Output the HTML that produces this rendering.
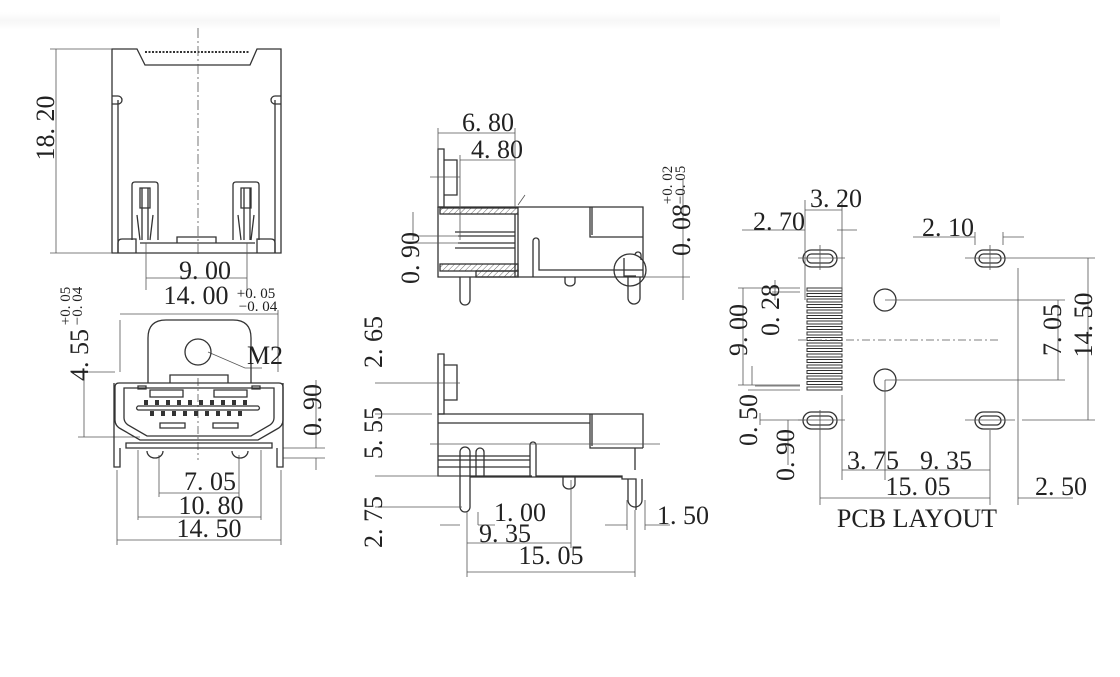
<!DOCTYPE html>
<html><head><meta charset="utf-8"><style>
html,body{margin:0;padding:0;background:#fff;}
svg{display:block}
text{font-family:"Liberation Serif",serif;fill:#222;font-size:26px;text-anchor:middle;}
.s{font-size:15px}
</style></head><body>
<svg width="1120" height="677" viewBox="0 0 1120 677" xmlns="http://www.w3.org/2000/svg">
<defs>
<linearGradient id="g" x1="0" y1="0" x2="0" y2="1"><stop offset="0" stop-color="#fff"/><stop offset="0.5" stop-color="#f7f7f7"/><stop offset="1" stop-color="#fff"/></linearGradient>
<pattern id="h" width="4" height="4" patternUnits="userSpaceOnUse" patternTransform="rotate(45)"><line x1="0" y1="0" x2="0" y2="4" stroke="#444" stroke-width="0.8"/></pattern>
</defs>
<rect x="0" y="12" width="1000" height="18" fill="url(#g)"/>
<g fill="none" stroke="#333" stroke-width="1.3">
<path d="M112,49 H137 L145,65 H250 L257,49 H281 V253 H112 Z"/>
<path d="M145,52 H250" stroke-dasharray="2,1.5" stroke-width="2"/>
<path d="M118,100 V253 M275,100 V253 M112,96 h6 a3,3 0 0 1 0,8 h-6 M281,96 h-6 a3,3 0 0 0 0,8 h6"/>
<path d="M140,243 H255 M177,243 V237 H216 V243"/>
<path d="M132,240 V185 q0,-3 3,-3 h20 q3,0 3,3 V240 M140,188 h10 v20 h-10z M137,215 l3,25 M153,215 l-3,25 M142,188 V240 M148,188 V240"/>
<path d="M233,240 V185 q0,-3 3,-3 h20 q3,0 3,3 V240 M241,188 h10 v20 h-10z M238,215 l3,25 M254,215 l-3,25 M244,188 V240 M250,188 V240"/>
<path d="M118,253 v-10 q0,-4 4,-4 h14 v14 M275,253 v-10 q0,-4 -4,-4 h-14 v14"/>
</g>
<g fill="none" stroke="#555" stroke-width="0.8">
<path d="M198,28 V256" stroke-dasharray="10,3,2,3"/>
<path d="M50,49 H112 M50,253 H112 M56,49 V253"/>
<path d="M146,243 V290 M247,243 V290 M146,278 H247"/>
<path d="M120,372 V320 M278,372 V310 M120,314 H278"/>
<path d="M78,372 H115 M78,437 H140 M84,372 V437"/>
<path d="M283,448 H325 M283,458 H325 M316,380 V448 M316,458 V470"/>
<path d="M159,455 V497 M239,455 V497 M159,493 H239"/>
<path d="M138,450 V520 M261,450 V520 M138,517 H261"/>
<path d="M117,470 V545 M281,470 V545 M117,540 H281"/>
<path d="M208,352 L245,368 H262"/>
<path d="M198,378 V460" stroke-dasharray="8,3,2,3"/>
</g>
<g fill="none" stroke="#333" stroke-width="1.3">
<path d="M148,383 V338 q0,-18 18,-18 h67 q18,0 18,18 V383"/>
<circle cx="198" cy="352" r="13"/>
<path d="M170,383 V375 H228 V383"/>
<path d="M119,383 q-4,0 -4,4 V420 q0,6 6,9 L140,440 H258 L277,429 q6,-3 6,-9 V387 q0,-4 -4,-4 Z"/>
<path d="M124,388 V418 q0,4 4,7 L147,436 H251 L270,425 q4,-3 4,-7 V388 Z"/>
<path d="M114,383 V467 h6 V448 M283,383 V467 h-6 V448"/>
<path d="M126,443 H272 V448 H126 Z"/>
<path d="M150,390 h33 v7 h-33z M214,390 h33 v7 h-33z M160,423 h25 v5 h-25z M213,423 h25 v5 h-25z"/>
<path d="M138,410 q-3,-2 0,-4 H258 q3,2 0,4 Z"/>
<path d="M147,451 a8,7 0 0 0 16,0 M232,451 a8,7 0 0 0 16,0"/>
<path d="M138,386 h8 v3 h-8z M252,386 h8 v3 h-8z"/>
</g>
<g fill="#333">
<rect x="144" y="400" width="4" height="5"/><rect x="155" y="400" width="4" height="5"/><rect x="166" y="400" width="4" height="5"/><rect x="177" y="400" width="4" height="5"/><rect x="188" y="400" width="4" height="5"/><rect x="199" y="400" width="4" height="5"/><rect x="210" y="400" width="4" height="5"/><rect x="221" y="400" width="4" height="5"/><rect x="232" y="400" width="4" height="5"/><rect x="243" y="400" width="4" height="5"/>
<rect x="150" y="411" width="4" height="5"/><rect x="161" y="411" width="4" height="5"/><rect x="172" y="411" width="4" height="5"/><rect x="183" y="411" width="4" height="5"/><rect x="194" y="411" width="4" height="5"/><rect x="205" y="411" width="4" height="5"/><rect x="216" y="411" width="4" height="5"/><rect x="227" y="411" width="4" height="5"/><rect x="238" y="411" width="4" height="5"/>
</g>
<g fill="none" stroke="#333" stroke-width="1.3">
<path d="M438,149 h6 v58 h-6z M444,160 h13 v35 h-13"/>
<path d="M438,207 H643 V277 H438 Z"/>
<rect x="440" y="208" width="78" height="6" fill="url(#h)"/>
<rect x="440" y="264" width="78" height="7" fill="url(#h)"/>
<rect x="476" y="271" width="42" height="6" fill="url(#h)"/>
<path d="M458,236 H515 M458,243 H515 M455,232 h60 M455,248 h60 M515,214 V277 M518,214 V277"/>
<path d="M533,277 V241 a3,3 0 0 1 6,0 V270 H643"/>
<path d="M590,207 V237 H643 M592,207 V235"/>
<path d="M460,277 V300 a5,5 0 0 0 10,0 V277 M628,277 V298 a6,6 0 0 0 12,0 V277"/>
<path d="M565,277 v5 a5,4 0 0 0 10,0 v-5"/>
<circle cx="630" cy="270" r="16"/>
<path d="M624,258 V276 H636"/>
<path d="M635,255 a3,3 0 0 1 6,0 v5"/>
</g>
<g fill="none" stroke="#555" stroke-width="0.8">
<path d="M438,128 V207 M515,128 V207 M438,133 H515 M460,155 V240 M460,160 H515 M518,205 L525,195"/>
<path d="M413,212 V240 M413,236 H460 M413,243 H460"/>
<path d="M683,180 V300 M645,277 H690"/>
<path d="M430,177 H460"/>
</g>
<g fill="none" stroke="#333" stroke-width="1.3">
<path d="M438,354 h6 v60 h-6z M444,365 h13 v35 h-13"/>
<path d="M438,414 H643 V448 M438,414 V476 H532 M438,423 H590"/>
<path d="M590,414 V448 H643 M592,414 V446"/>
<path d="M438,456 H530 M438,460 H530 M438,467 H530 M530,476 V445 a3,3 0 0 1 6,0 V476 H622 V479 H636 V510"/>
<path d="M460,507 V452 a5,5 0 0 1 10,0 V507 a5,5 0 0 1 -10,0 M476,477 V452 a4,4 0 0 1 8,0 V477 M470,477 H622"/>
<path d="M628,479 V500 a7,7 0 0 0 14,0 V479"/>
<path d="M563,476 v8 a6,5 0 0 0 12,0 v-8"/>
<path d="M635,448 V470"/>
</g>
<g fill="none" stroke="#555" stroke-width="0.8">
<path d="M430,383 H460 M375,383 H438 M375,414 H432 M375,476 H460 M375,507 H462 M430,444 H660" />
<path d="M467,512 V577 M571,480 V548 M635,510 V577 M478,512 V525"/>
<path d="M440,525 H460 M478,525 H495 M467,543 H571 M467,572 H635 M605,525 H627 M645,525 H670 M627,500 V530 M645,500 V530"/>
</g>
<g fill="none" stroke="#333" stroke-width="1.3">
<rect x="803" y="250" width="34" height="17" rx="8.5"/><rect x="807" y="254" width="26" height="9" rx="4.5"/>
<rect x="975" y="250" width="30" height="17" rx="8.5"/><rect x="979" y="254" width="22" height="9" rx="4.5"/>
<rect x="803" y="412" width="34" height="17" rx="8.5"/><rect x="807" y="416" width="26" height="9" rx="4.5"/>
<rect x="975" y="412" width="30" height="17" rx="8.5"/><rect x="979" y="416" width="22" height="9" rx="4.5"/>
<circle cx="885" cy="300" r="11"/><circle cx="885" cy="380" r="11"/>
</g>
<g fill="none" stroke="#333" stroke-width="1">
<path d="M807,288h35v3h-35z M807,293.5h35v3h-35z M807,299h35v3h-35z M807,304.5h35v3h-35z M807,310h35v3h-35z M807,315.5h35v3h-35z M807,321h35v3h-35z M807,326.5h35v3h-35z M807,332h35v3h-35z M807,337.5h35v3h-35z M807,343h35v3h-35z M807,348.5h35v3h-35z M807,354h35v3h-35z M807,359.5h35v3h-35z M807,365h35v3h-35z M807,370.5h35v3h-35z M807,376h35v3h-35z M807,381.5h35v3h-35z M807,387h35v3h-35z"/>
</g>
<g fill="none" stroke="#555" stroke-width="0.8">
<path d="M798,340 H1000" stroke-dasharray="8,3,2,3"/>
<path d="M798,258 H845 M965,258 H1015 M798,420 H845 M965,420 H1015 M820,245 V270 M990,245 V270 M820,410 V432"/>
<path d="M805,200 V300 M842,200 V300 M805,210 H842 M742,230 H805 M837,230 H857 M975,232 V245 M1003,232 V245 M913,237 H975 M1003,237 H1024"/>
<path d="M885,300 H1065 M885,380 H1065 M1058,300 V380 M1015,258 H1095 M1022,420 H1095 M1088,258 V420 M1018,268 V505"/>
<path d="M738,288 H800 M738,385 H800 M743,288 V385 M775,280 V300 M772,292 H800 M752,366 V385 M755,386 H800 M748,390 H800"/>
<path d="M760,413 V425 M760,420 H805 M788,420 V465"/>
<path d="M842,395 V480 M885,380 V480 M842,470 H990 M990,430 V505 M820,432 V505 M820,498 H990 M1018,498 H1073"/>
</g>
<text transform="translate(54,128) rotate(-90)">18. 20</text>
<text x="205" y="279">9. 00</text>
<text x="196" y="304">14. 00</text><text class="s" x="256" y="298">+0. 05</text><text class="s" x="258" y="311">−0. 04</text>
<text x="265" y="364" font-size="21">M2</text>
<text transform="translate(88,355) rotate(-90)">4. 55</text><text class="s" transform="translate(70,306) rotate(-90)">+0. 05</text><text class="s" transform="translate(82,306) rotate(-90)">−0. 04</text>
<text transform="translate(321,410) rotate(-90)">0. 90</text>
<text x="210" y="490">7. 05</text>
<text x="211" y="514">10. 80</text>
<text x="209" y="537">14. 50</text>
<text x="488" y="131">6. 80</text>
<text x="497" y="158">4. 80</text>
<text transform="translate(419,258) rotate(-90)">0. 90</text>
<text transform="translate(690,230) rotate(-90)">0. 08</text><text class="s" transform="translate(672,185) rotate(-90)">+0. 02</text><text class="s" transform="translate(685,185) rotate(-90)">−0. 05</text>
<text transform="translate(382,342) rotate(-90)">2. 65</text>
<text transform="translate(382,433) rotate(-90)">5. 55</text>
<text transform="translate(382,522) rotate(-90)">2. 75</text>
<text x="520" y="521">1. 00</text>
<text x="505" y="542">9. 35</text>
<text x="551" y="564">15. 05</text>
<text x="683" y="524">1. 50</text>
<text x="836" y="207">3. 20</text>
<text x="779" y="230">2. 70</text>
<text x="948" y="236">2. 10</text>
<text transform="translate(747,330) rotate(-90)">9. 00</text>
<text transform="translate(779,310) rotate(-90)">0. 28</text>
<text transform="translate(1061,330) rotate(-90)">7. 05</text>
<text transform="translate(1092,325) rotate(-90)">14. 50</text>
<text transform="translate(757,420) rotate(-90)">0. 50</text>
<text transform="translate(794,455) rotate(-90)">0. 90</text>
<text x="873" y="469">3. 75</text>
<text x="946" y="469">9. 35</text>
<text x="918" y="495">15. 05</text>
<text x="1061" y="495">2. 50</text>
<text x="917" y="527" font-size="21">PCB LAYOUT</text>
</svg>
</body></html>
